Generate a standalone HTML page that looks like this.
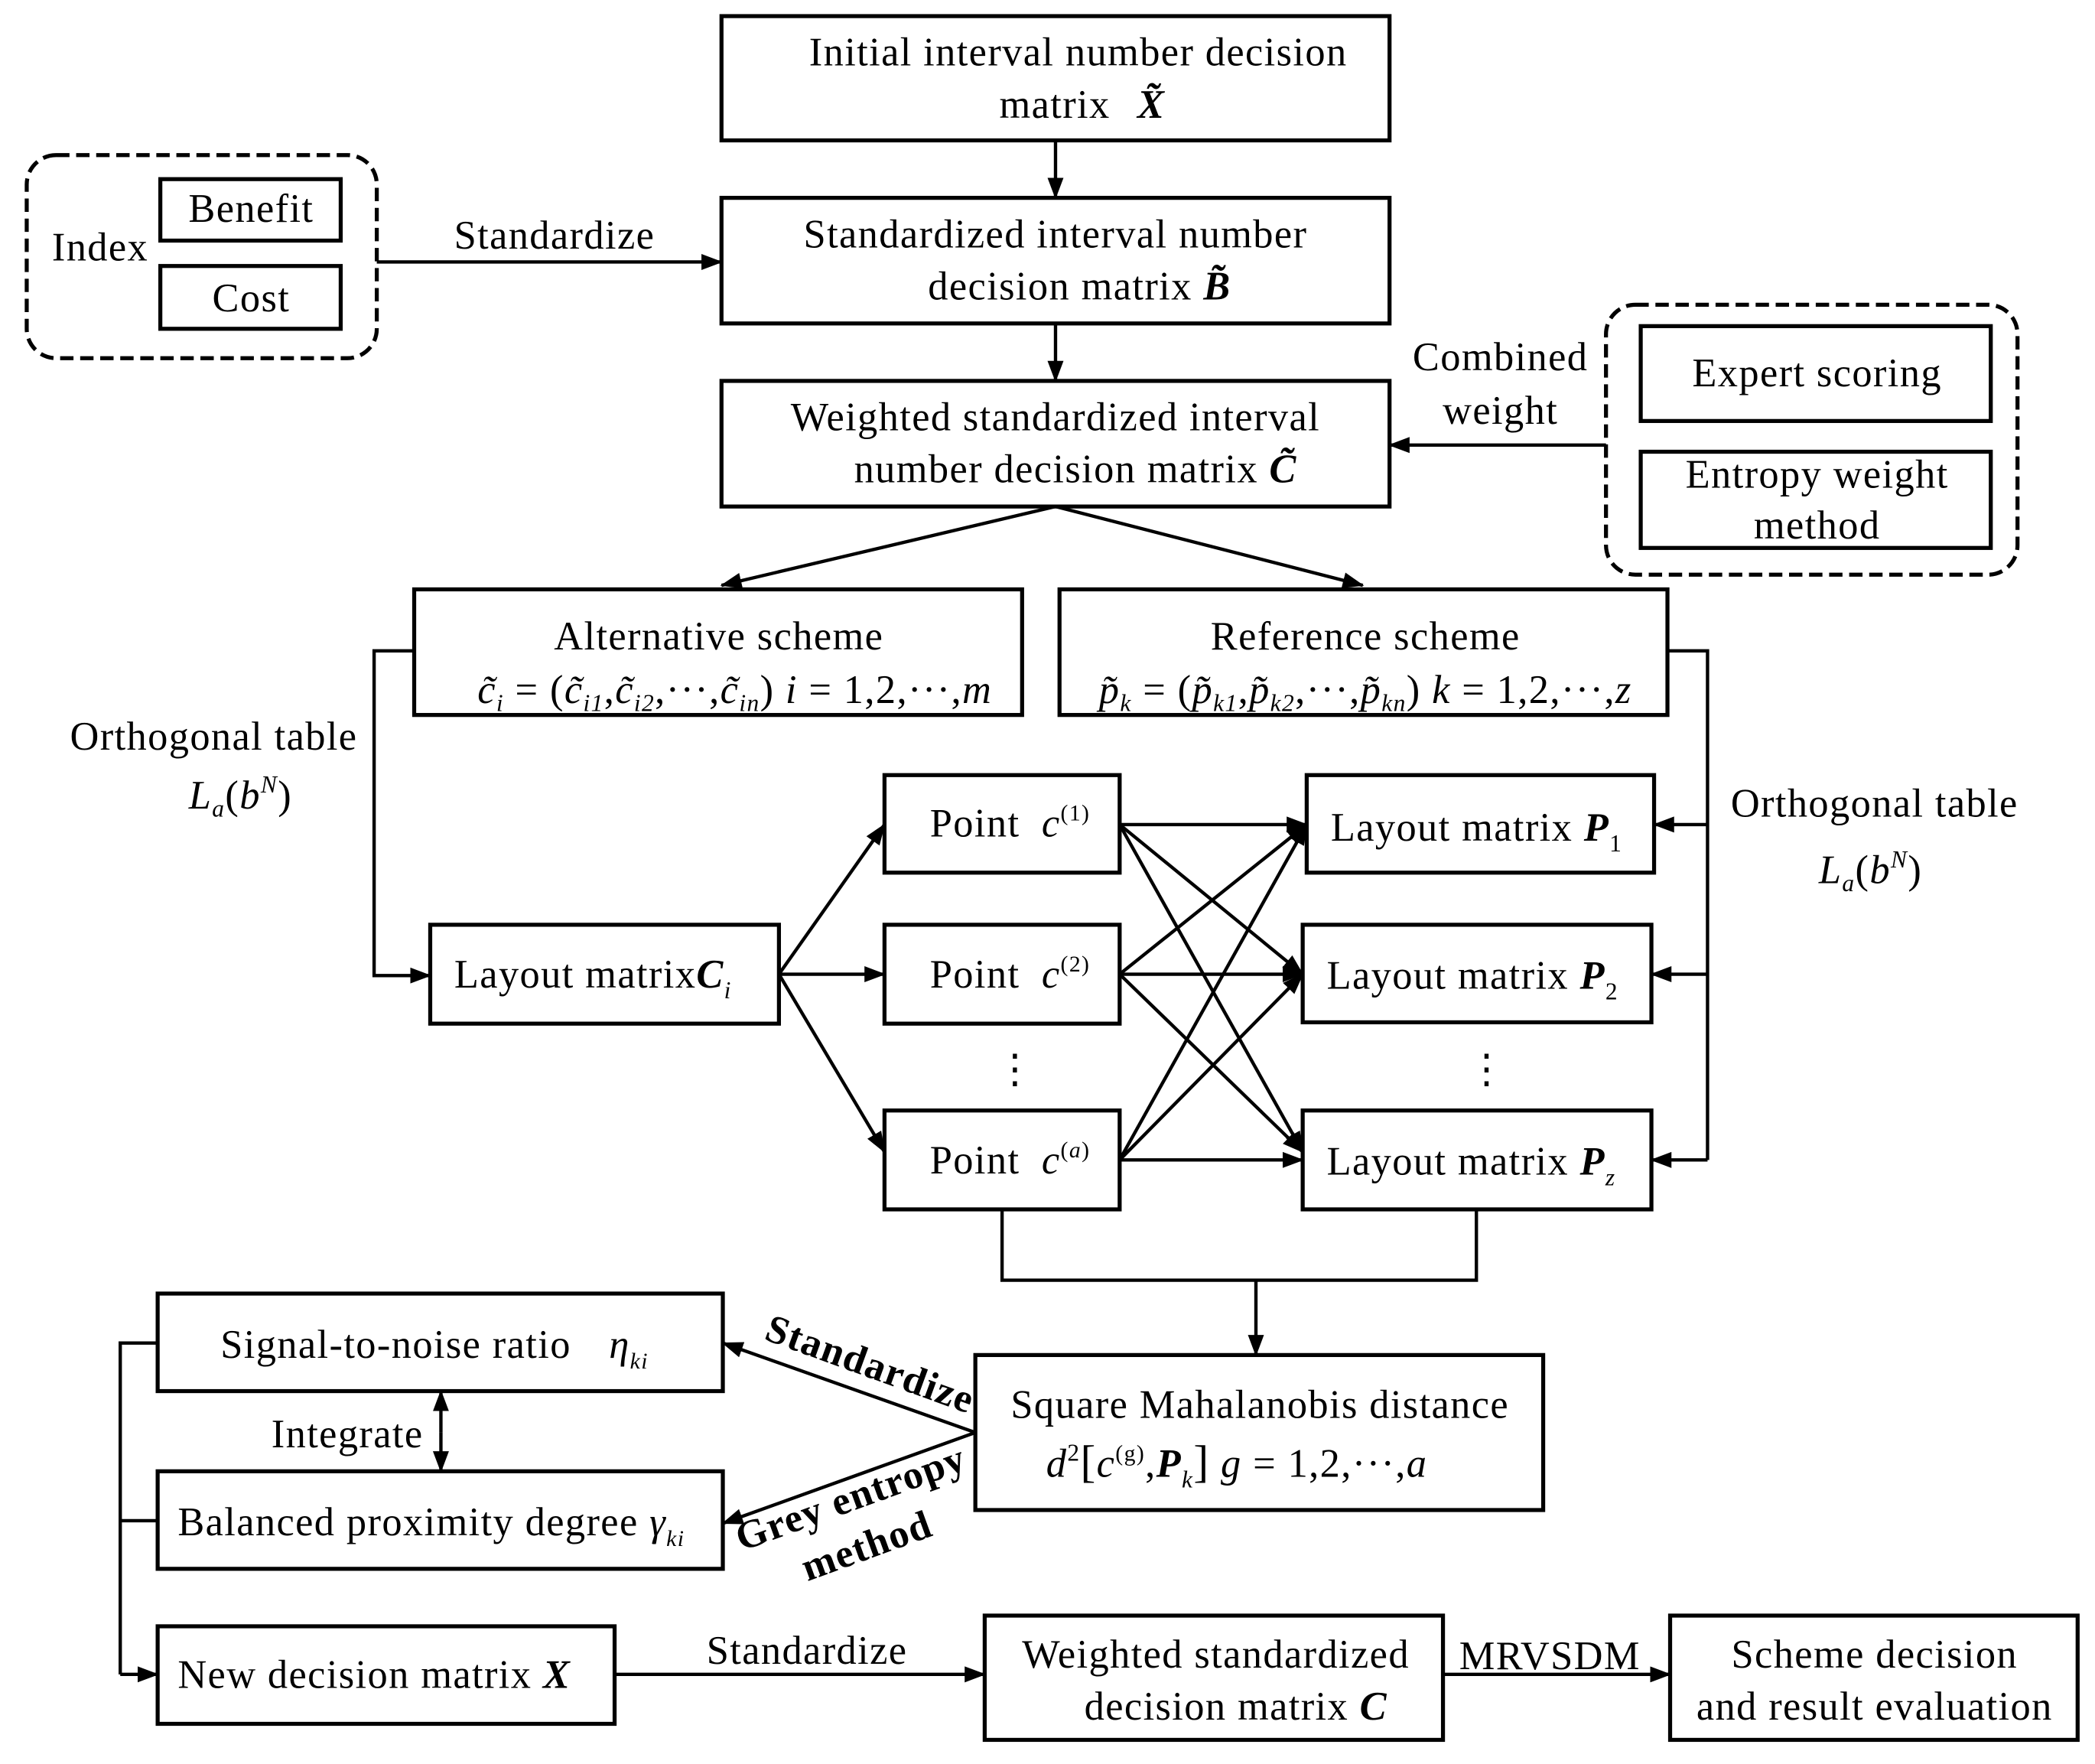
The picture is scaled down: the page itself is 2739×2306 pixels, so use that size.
<!DOCTYPE html>
<html><head><meta charset="utf-8"><style>
html,body{margin:0;padding:0;background:#fff;}
svg{display:block;}
text{font-family:"Liberation Serif",serif;font-size:30px;letter-spacing:0.8px;fill:#000;}
.i{font-style:italic;}
.b{font-weight:bold;font-style:italic;}
</style></head><body>
<svg width="2739" height="2306" viewBox="0 0 1568 1320" xmlns="http://www.w3.org/2000/svg">
<defs>
<marker id="as" markerWidth="16" markerHeight="14" refX="15" refY="7" orient="auto" markerUnits="userSpaceOnUse" viewBox="0 0 16 14"><path d="M0,1 L16,7 L0,13 z" fill="#000"/></marker></defs>
<g fill="none" stroke="#000" stroke-width="3">
<rect x="540" y="12" width="500" height="93"/>
<rect x="540" y="148" width="500" height="94"/>
<rect x="540" y="285" width="500" height="94"/>
<rect x="20" y="116" width="262" height="152" rx="22" stroke-dasharray="10,5"/>
<rect x="120" y="134" width="135" height="46"/>
<rect x="120" y="199" width="135" height="47"/>
<rect x="1202" y="228" width="308" height="202" rx="22" stroke-dasharray="10,5"/>
<rect x="1228" y="244" width="262" height="71"/>
<rect x="1228" y="338" width="262" height="72"/>
<rect x="310" y="441" width="455" height="94"/>
<rect x="793" y="441" width="455" height="94"/>
<rect x="322" y="692" width="261" height="74"/>
<rect x="662" y="580" width="176" height="73"/>
<rect x="662" y="692" width="176" height="74"/>
<rect x="662" y="831" width="176" height="74"/>
<rect x="978" y="580" width="260" height="73"/>
<rect x="975" y="692" width="261" height="73"/>
<rect x="975" y="831" width="261" height="74"/>
<rect x="730" y="1014" width="425" height="116"/>
<rect x="118" y="968" width="423" height="73"/>
<rect x="118" y="1101" width="423" height="73"/>
<rect x="118" y="1217" width="342" height="73"/>
<rect x="737" y="1209" width="343" height="93"/>
<rect x="1250" y="1209" width="305" height="93"/>
</g>
<g fill="none" stroke="#000" stroke-width="2.5" marker-end="url(#as)">
<line x1="790" y1="105" x2="790" y2="148"/>
<line x1="790" y1="242" x2="790" y2="285"/>
<line x1="282" y1="196" x2="540" y2="196"/>
<line x1="1202" y1="333" x2="1040" y2="333"/>
<line x1="790" y1="379" x2="540" y2="438"/>
<line x1="790" y1="379" x2="1020" y2="438"/>
<polyline points="310,487 280,487 280,730 322,730"/>
<line x1="583" y1="729" x2="662" y2="617"/>
<line x1="583" y1="729" x2="662" y2="729"/>
<line x1="583" y1="729" x2="662" y2="862"/>
<line x1="1278" y1="617" x2="1238" y2="617"/>
<line x1="1278" y1="729" x2="1236" y2="729"/>
<line x1="1278" y1="868" x2="1236" y2="868"/>
<line x1="838" y1="617" x2="978" y2="617"/>
<line x1="838" y1="617" x2="975" y2="729"/>
<line x1="838" y1="617" x2="975" y2="862"/>
<line x1="838" y1="729" x2="978" y2="617"/>
<line x1="838" y1="729" x2="975" y2="729"/>
<line x1="838" y1="729" x2="975" y2="862"/>
<line x1="838" y1="868" x2="978" y2="617"/>
<line x1="838" y1="868" x2="975" y2="729"/>
<line x1="838" y1="868" x2="975" y2="868"/>
<line x1="940" y1="958" x2="940" y2="1014"/>
<line x1="730" y1="1072" x2="541" y2="1005"/>
<line x1="730" y1="1072" x2="541" y2="1140"/>
<line x1="330" y1="1072" x2="330" y2="1041"/>
<line x1="330" y1="1072" x2="330" y2="1101"/>
<line x1="90" y1="1253" x2="118" y2="1253"/>
<line x1="460" y1="1253" x2="737" y2="1253"/>
<line x1="1080" y1="1253" x2="1250" y2="1253"/>
</g>
<g fill="none" stroke="#000" stroke-width="2.5">
<polyline points="1248,487 1278,487 1278,868"/>
<polyline points="750,905 750,958 1105,958 1105,905"/>
<polyline points="118,1005 90,1005 90,1253"/>
<line x1="90" y1="1138" x2="118" y2="1138"/>
</g>
<text x="807" y="49" text-anchor="middle">Initial interval number decision</text>
<text x="810" y="88" text-anchor="middle">matrix <tspan class="b" dx="12">X̃</tspan></text>
<text x="790" y="185" text-anchor="middle">Standardized interval number</text>
<text x="808" y="224" text-anchor="middle">decision matrix <tspan class="b">B̃</tspan></text>
<text x="790" y="322" text-anchor="middle">Weighted standardized interval</text>
<text x="805" y="361" text-anchor="middle">number decision matrix <tspan class="b">C̃</tspan></text>
<text x="75" y="195" text-anchor="middle">Index</text>
<text x="188" y="166" text-anchor="middle">Benefit</text>
<text x="188" y="233" text-anchor="middle">Cost</text>
<text x="415" y="186" text-anchor="middle">Standardize</text>
<text x="1123" y="277" text-anchor="middle">Combined</text>
<text x="1123" y="317" text-anchor="middle">weight</text>
<text x="1360" y="289" text-anchor="middle">Expert scoring</text>
<text x="1360" y="365" text-anchor="middle">Entropy weight</text>
<text x="1360" y="403" text-anchor="middle">method</text>
<text x="538" y="486" text-anchor="middle">Alternative scheme</text>
<text x="550" y="526" text-anchor="middle" class="i">c̃<tspan font-size="18" dy="6">i</tspan><tspan dy="-6" font-style="normal"> = (</tspan>c̃<tspan font-size="18" dy="6">i1</tspan><tspan dy="-6" font-style="normal">,</tspan>c̃<tspan font-size="18" dy="6">i2</tspan><tspan dy="-6" font-style="normal">,···,</tspan>c̃<tspan font-size="18" dy="6">in</tspan><tspan dy="-6" font-style="normal">) </tspan>i<tspan font-style="normal"> = 1,2,···,</tspan>m</text>
<text x="1022" y="486" text-anchor="middle">Reference scheme</text>
<text x="1022" y="526" text-anchor="middle" class="i">p̃<tspan font-size="18" dy="6">k</tspan><tspan dy="-6" font-style="normal"> = (</tspan>p̃<tspan font-size="18" dy="6">k1</tspan><tspan dy="-6" font-style="normal">,</tspan>p̃<tspan font-size="18" dy="6">k2</tspan><tspan dy="-6" font-style="normal">,···,</tspan>p̃<tspan font-size="18" dy="6">kn</tspan><tspan dy="-6" font-style="normal">) </tspan>k<tspan font-style="normal"> = 1,2,···,</tspan>z</text>
<text x="160" y="561" text-anchor="middle">Orthogonal table</text>
<text x="180" y="605" text-anchor="middle" class="i">L<tspan font-size="18" dy="6">a</tspan><tspan dy="-6" font-style="normal">(</tspan>b<tspan font-size="18" dy="-12">N</tspan><tspan dy="12" font-style="normal">)</tspan></text>
<text x="1403" y="611" text-anchor="middle">Orthogonal table</text>
<text x="1400" y="661" text-anchor="middle" class="i">L<tspan font-size="18" dy="6">a</tspan><tspan dy="-6" font-style="normal">(</tspan>b<tspan font-size="18" dy="-12">N</tspan><tspan dy="12" font-style="normal">)</tspan></text>
<text x="340" y="739">Layout matrix<tspan class="b">C</tspan><tspan class="i" font-size="18" dy="8">i</tspan></text>
<text x="696" y="626">Point <tspan class="i" dx="8">c</tspan><tspan font-size="17" dy="-12">(1)</tspan></text>
<text x="696" y="739">Point <tspan class="i" dx="8">c</tspan><tspan font-size="17" dy="-12">(2)</tspan></text>
<text x="696" y="878">Point <tspan class="i" dx="8">c</tspan><tspan font-size="17" dy="-12">(</tspan><tspan font-size="17" class="i">a</tspan><tspan font-size="17">)</tspan></text>
<text x="760" y="810" text-anchor="middle">⋮</text>
<text x="1113" y="810" text-anchor="middle">⋮</text>
<text x="996" y="629">Layout matrix <tspan class="b">P</tspan><tspan font-size="18" dy="8">1</tspan></text>
<text x="993" y="740">Layout matrix <tspan class="b">P</tspan><tspan font-size="18" dy="8">2</tspan></text>
<text x="993" y="879">Layout matrix <tspan class="b">P</tspan><tspan class="i" font-size="18" dy="8">z</tspan></text>
<text x="943" y="1061" text-anchor="middle">Square Mahalanobis distance</text>
<text x="783" y="1105" class="i">d<tspan font-style="normal" font-size="18" dy="-12">2</tspan><tspan font-style="normal" dy="12" font-size="34">[</tspan>c<tspan font-size="17" dy="-12" font-style="normal">(g)</tspan><tspan font-style="normal" dy="12">,</tspan><tspan class="b">P</tspan><tspan font-size="18" dy="8">k</tspan><tspan font-style="normal" dy="-8" font-size="34">]</tspan> g<tspan font-style="normal"> = 1,2,···,</tspan>a</text>
<text x="165" y="1016">Signal-to-noise ratio <tspan class="i" dx="20">η</tspan><tspan class="i" font-size="17" dy="8">ki</tspan></text>
<text x="133" y="1149">Balanced proximity degree <tspan class="i">γ</tspan><tspan class="i" font-size="17" dy="8">ki</tspan></text>
<text x="260" y="1083" text-anchor="middle">Integrate</text>
<text x="648" y="1030" text-anchor="middle" font-weight="bold" transform="rotate(20 648 1030)">Standardize</text>
<text x="640" y="1130" text-anchor="middle" font-weight="bold" transform="rotate(-20 640 1130)">Grey entropy</text>
<text x="652" y="1166" text-anchor="middle" font-weight="bold" transform="rotate(-20 652 1166)">method</text>
<text x="133" y="1263">New decision matrix <tspan class="b">X</tspan></text>
<text x="604" y="1245" text-anchor="middle">Standardize</text>
<text x="910" y="1248" text-anchor="middle">Weighted standardized</text>
<text x="925" y="1287" text-anchor="middle">decision matrix <tspan class="b">C</tspan></text>
<text x="1160" y="1249" text-anchor="middle">MRVSDM</text>
<text x="1403" y="1248" text-anchor="middle">Scheme decision</text>
<text x="1403" y="1287" text-anchor="middle">and result evaluation</text>
</svg>
</body></html>
